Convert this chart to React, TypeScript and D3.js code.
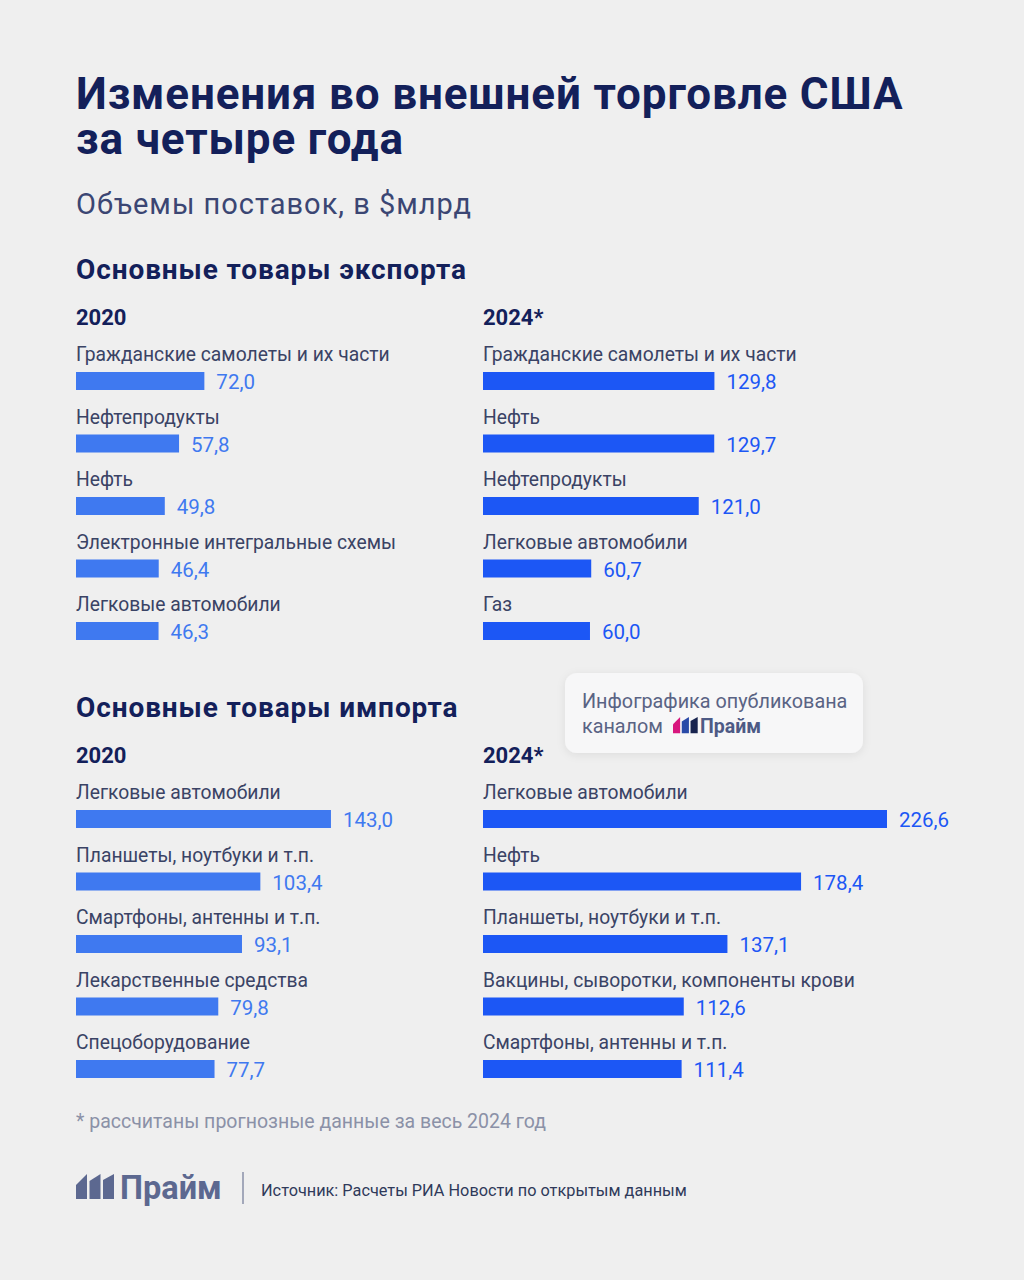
import React from "react";
import * as d3 from "d3";

const exp2020Labels = ["Гражданские самолеты и их части", "Нефтепродукты", "Нефть", "Электронные интегральные схемы", "Легковые автомобили"];
const exp2020Values = [72.0, 57.8, 49.8, 46.4, 46.3];
const exp2024Labels = ["Гражданские самолеты и их части", "Нефть", "Нефтепродукты", "Легковые автомобили", "Газ"];
const exp2024Values = [129.8, 129.7, 121.0, 60.7, 60.0];
const imp2020Labels = ["Легковые автомобили", "Планшеты, ноутбуки и т.п.", "Смартфоны, антенны и т.п.", "Лекарственные средства", "Спецоборудование"];
const imp2020Values = [143.0, 103.4, 93.1, 79.8, 77.7];
const imp2024Labels = ["Легковые автомобили", "Нефть", "Планшеты, ноутбуки и т.п.", "Вакцины, сыворотки, компоненты крови", "Смартфоны, антенны и т.п."];
const imp2024Values = [226.6, 178.4, 137.1, 112.6, 111.4];

const FONT = "Roboto, 'Noto Sans', sans-serif";
const NAVY = "#13205a";
const LABEL = "#3a4365";
const C2020 = "#3f79f0";
const C2024 = "#1c57f5";

const x = d3.scaleLinear().domain([0, 226.6]).range([0, 404]);
const fmt = (v: number) => d3.format(".1f")(v).replace(".", ",");

function Panel({ left, top, labels, values, color, valueColor }: any) {
  const y = d3.scaleBand<number>().domain(d3.range(labels.length)).range([top, top + 62.5 * labels.length]);
  return (
    <g>
      {labels.map((l: string, i: number) => {
        const by = y(i) as number;
        const w = x(values[i]);
        return (
          <g key={i}>
            <text x={left} y={by - 11} fontSize={19.3} fill={LABEL} fontFamily={FONT}>{l}</text>
            <rect x={left} y={by} width={w} height={18} fill={color} />
            <text x={left + w + 12} y={by + 17} fontSize={20.5} fill={valueColor} fontFamily={FONT}>{fmt(values[i])}</text>
          </g>
        );
      })}
    </g>
  );
}

function LogoIcon({ x0, y0, s, color }: any) {
  const bw = 11 * s, gap = 2.5 * s, h = 25 * s;
  const drops = [11, 7, 6];
  return (
    <g>
      {[0, 1, 2].map((i) => {
        const bx = x0 + i * (bw + gap);
        const pts = [[bx, y0 + h], [bx, y0 + drops[i] * s], [bx + bw, y0], [bx + bw, y0 + h]];
        return <polygon key={i} points={pts.map((p) => p.join(",")).join(" ")} fill={color[i]} />;
      })}
    </g>
  );
}

export default function App() {
  return (
    <svg width={1024} height={1280} style={{ position: "absolute", left: 0, top: 0 }} fontFamily={FONT}>
      <defs>
        <filter id="sh" x="-10%" y="-20%" width="120%" height="150%">
          <feDropShadow dx="0" dy="2" stdDeviation="4" floodColor="#000" floodOpacity="0.08" />
        </filter>
      </defs>
      <rect width={1024} height={1280} fill="#efefef" />
      <text x={76} y={109} fontSize={44} fontWeight={700} fill={NAVY} letterSpacing={0.85}>Изменения во внешней торговле США</text>
      <text x={76} y={154} fontSize={44} fontWeight={700} fill={NAVY} letterSpacing={0.85}>за четыре года</text>
      <text x={76} y={214} fontSize={29} fill="#3b4673" letterSpacing={1}>Объемы поставок, в $млрд</text>

      <text x={76} y={279} fontSize={28} fontWeight={700} fill={NAVY} letterSpacing={0.9}>Основные товары экспорта</text>
      <text x={76} y={325} fontSize={22} fontWeight={700} fill={NAVY}>2020</text>
      <text x={483} y={325} fontSize={22} fontWeight={700} fill={NAVY}>2024*</text>
      <Panel left={76} top={372} labels={exp2020Labels} values={exp2020Values} color={C2020} valueColor={C2020} />
      <Panel left={483} top={372} labels={exp2024Labels} values={exp2024Values} color={C2024} valueColor={C2024} />

      <text x={76} y={717} fontSize={28} fontWeight={700} fill={NAVY} letterSpacing={0.9}>Основные товары импорта</text>
      <text x={76} y={763} fontSize={22} fontWeight={700} fill={NAVY}>2020</text>
      <text x={483} y={763} fontSize={22} fontWeight={700} fill={NAVY}>2024*</text>
      <Panel left={76} top={810} labels={imp2020Labels} values={imp2020Values} color={C2020} valueColor={C2020} />
      <Panel left={483} top={810} labels={imp2024Labels} values={imp2024Values} color={C2024} valueColor={C2024} />

      <rect x={565} y={673} width={298} height={80} rx={12} fill="#f7f7f8" filter="url(#sh)" />
      <text x={582} y={708} fontSize={19.8} fill="#5a6384">Инфографика опубликована</text>
      <text x={582} y={733} fontSize={19.8} fill="#5a6384">каналом</text>
      <LogoIcon x0={673} y0={717} s={0.65} color={["#d8177e", "#2a4aa8", "#18244f"]} />
      <text x={700} y={733} fontSize={19.5} fontWeight={700} fill="#4d5a85">Прайм</text>

      <text x={76} y={1128} fontSize={19.5} fill="#8b91a7">* рассчитаны прогнозные данные за весь 2024 год</text>

      <LogoIcon x0={76} y0={1174} s={1.0} color={["#5c6890", "#5c6890", "#5c6890"]} />
      <text x={120} y={1199} fontSize={32.5} fontWeight={700} fill="#5c6890">Прайм</text>
      <line x1={243} x2={243} y1={1172} y2={1204} stroke="#8a90a8" strokeWidth={1.5} />
      <text x={261} y={1196} fontSize={16.3} fill="#2f3a5a">Источник: Расчеты РИА Новости по открытым данным</text>
    </svg>
  );
}
